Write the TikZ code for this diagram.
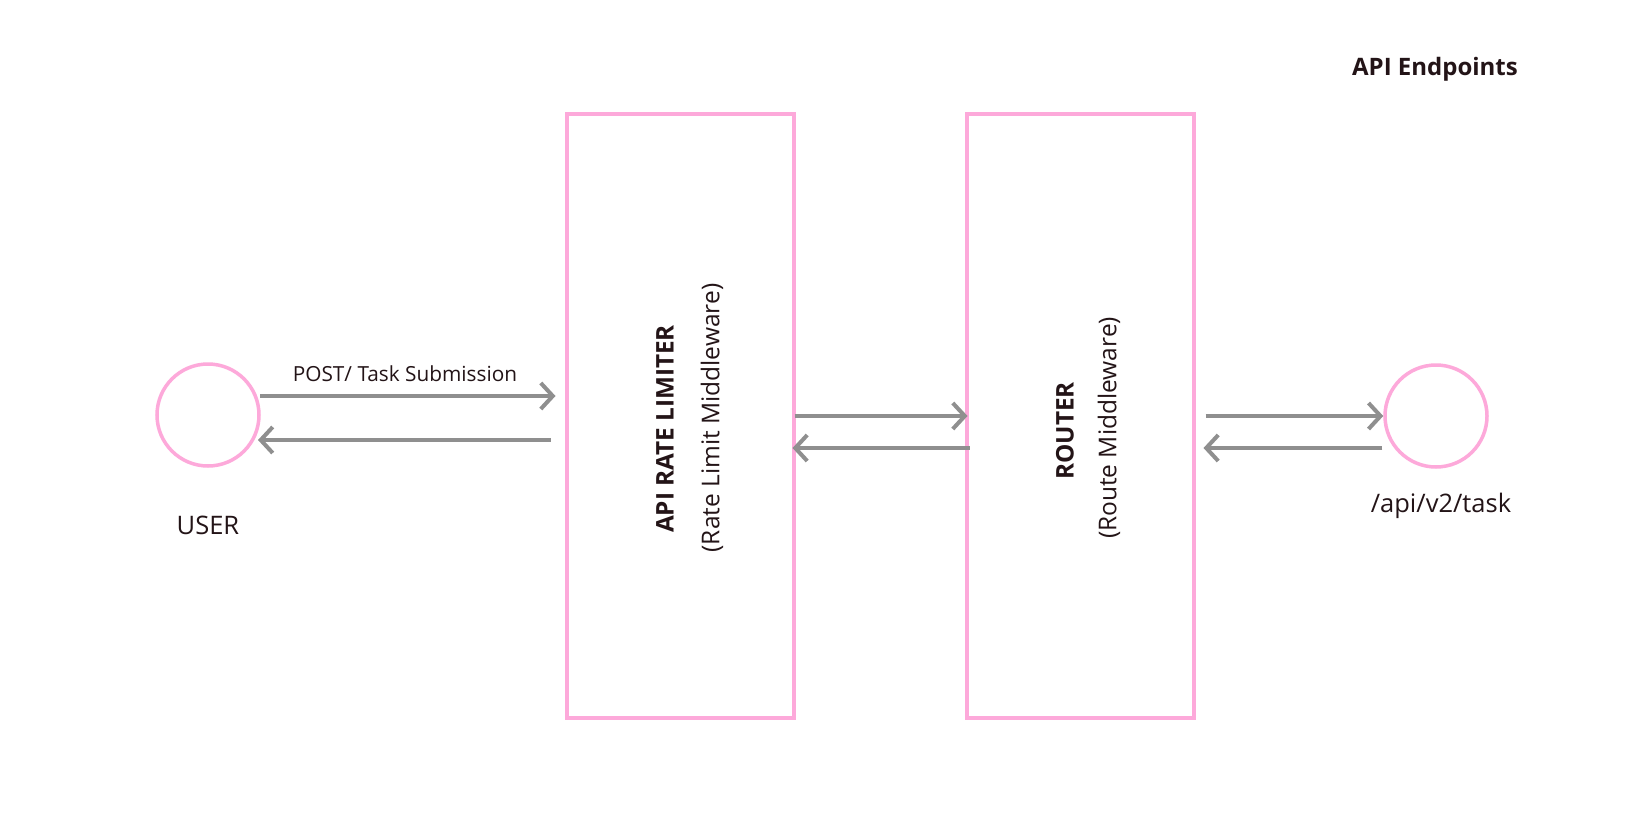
\documentclass[tikz,border=0pt]{standalone}
\usepackage{fontspec}
\setmainfont{Open Sans}
\usetikzlibrary{arrows.meta,calc}
\definecolor{pinkline}{HTML}{FDA9DA}
\definecolor{arrgray}{HTML}{8F8F8F}
\definecolor{txt}{HTML}{231417}
\tikzset{
  box/.style={draw=pinkline, line width=4pt, minimum width=227pt, minimum height=604pt, inner sep=0pt},
  endpt/.style={circle, draw=pinkline, line width=3.5pt, minimum size=102pt, inner sep=0pt},
  arr/.style={draw=arrgray, line width=4pt, -{Straight Barb[length=12pt,width=26pt]}},
  lbl/.style={text=txt, inner sep=0pt, font=\fontsize{24.5}{28}\selectfont},
  boldlbl/.style={text=txt, inner sep=0pt, font=\bfseries\fontsize{24.3}{28}\selectfont},
}
\begin{document}
\begin{tikzpicture}[x=1pt,y=-1pt]
\useasboundingbox (0,0) rectangle (1628,827);
\fill[white] (0,0) rectangle (1628,827);

\node[endpt] (user) at (208,415) {};
\node[box] (rl) at (680,416) {};
\node[box] (router) at (1080,416) {};
\node[endpt] (api) at (1436,416) {};

\node[lbl, font=\fontsize{25.5}{28}\selectfont] (userlbl) at (208,525) {USER};
\node[lbl, font=\fontsize{25.5}{28}\selectfont] (apilbl) at (1441,506) {/api/v2/task};
\node[boldlbl, font=\bfseries\fontsize{24}{28}\selectfont] (title) at (1435,69) {API Endpoints};
\node[lbl, font=\fontsize{20.8}{24}\selectfont] (postlbl) at (405,374) {POST/ Task Submission};

\node[boldlbl, rotate=90] (rltitle) at (665,429) {API RATE LIMITER};
\node[lbl, rotate=90] (rlsub) at (712,418) {(Rate Limit Middleware)};
\node[boldlbl, rotate=90] (rttitle) at (1065,431) {ROUTER};
\node[lbl, rotate=90] (rtsub) at (1109,428) {(Route Middleware)};

\draw[arr] ($(user.center)+(52,-19)$) -- ($(rl.west)+(-9,-20)$);
\draw[arr] ($(rl.west)+(-14,24)$) -- ($(user.center)+(50,25)$);
\draw[arr] ($(rl.east)+(-1,0)$) -- ($(router.west)+(3,0)$);
\draw[arr] ($(router.west)+(5,32)$) -- ($(rl.east)+(-3,32)$);
\draw[arr] ($(router.east)+(10,0)$) -- ($(api.west)+(0,0)$);
\draw[arr] ($(api.west)+(-1,32)$) -- ($(router.east)+(8,32)$);
\end{tikzpicture}
\end{document}
